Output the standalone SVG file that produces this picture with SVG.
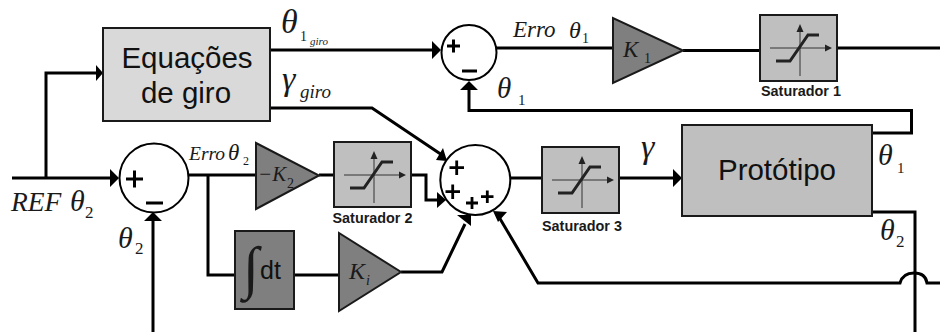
<svg xmlns="http://www.w3.org/2000/svg" width="940" height="332" viewBox="0 0 940 332">
<style>
.w{fill:none;stroke:#000;stroke-width:3;stroke-linejoin:miter}
.b{stroke:#1a1a1a;stroke-width:2}
.s{fill:#fff;stroke:#000;stroke-width:2}
.a{fill:#000;stroke:none}
.m{font-family:"Liberation Serif",serif;font-style:italic;fill:#1a1a1a}
.u{font-family:"Liberation Serif",serif;fill:#1a1a1a}
.l{font-family:"Liberation Sans",sans-serif;font-weight:bold;font-size:14.400px;fill:#1a1a1a}
.t{font-family:"Liberation Sans",sans-serif;fill:#111}
.x{stroke:#333;stroke-width:1;fill:none}
.c{stroke:#222;stroke-width:3;fill:none}
</style>
<defs>
<g id="sat">
<path class="x" d="M10 33H68M40 61V12"/>
<path d="M72 33l-7-3.500v7zM40 9l-3.500 8h7z" fill="#222"/>
<path class="c" d="M16 46H30L48 20H59"/>
</g>
</defs>
<g id="connectors">
<path class="w" d="M12 178H113"/>
<path class="w" d="M46 178V73H97"/>
<path class="w" d="M270 50H435"/>
<path class="w" d="M270 108H372L442 155"/>
<path class="w" d="M496 48H613M683 50.500H760M837 48H940"/>
<path class="w" d="M872 133H911.500V110.500H469V88"/>
<path class="w" d="M188 175H256M319 175H334"/>
<path class="w" d="M411 175H426V200H440"/>
<path class="w" d="M208 175V275H235M294 275H339"/>
<path class="w" d="M401 272H442L465 224"/>
<path class="w" d="M153 332V218"/>
<path class="w" d="M509 178H542M619 178H676"/>
<path class="w" d="M872 212H915V332"/>
<path class="w" d="M940 283H927C926 276 921 273 914 273C907 273 902 276 900 283H538L499 217"/>
<path class="a" d="M103 73L96 65V81zM441 50L432 41V59zM469 81L460 90H478zM119 178L110 169V187zM153 212L144 221H162zM682 178L673 169V187z"/>
<path class="a" d="M447 161L436 160L443 148zM446 200L437 192V208zM471 215L457 215L471 226zM493 211L507 212L498 222z"/>
</g>
<g id="equacoes"><rect class="b" x="103" y="28" width="167" height="93" fill="#d9d9d9"/>
<text class="t" x="187" y="68" font-size="29.500" text-anchor="middle">Equações</text>
<text class="t" x="186" y="103" font-size="29.500" text-anchor="middle">de giro</text></g>
<g id="sum1"><circle class="s" cx="469" cy="52.500" r="27.500"/>
<path d="M447 46H460M453.500 39.500V52.500M462 71H477" stroke="#000" stroke-width="3"/></g>
<g id="sum2"><circle class="s" cx="154" cy="178" r="34.500"/>
<path d="M126 179H143M134.500 170.500V187.500M146 203H163" stroke="#000" stroke-width="3"/></g>
<g id="sum3"><circle class="s" cx="475.300" cy="180" r="35"/>
<path d="M449.500 167.700H464M456.700 160.500V175M445.500 191.700H460M452.700 184.500V199M466 203H478M472 197V209M481 196.700H493.500M487.300 190.500V203" stroke="#000" stroke-width="2.800"/></g>
<g id="k1"><path class="b" d="M613 18V83L683 50.500z" fill="#7f7f7f"/>
<text class="m" x="623" y="57" font-size="23">K</text><text class="u" x="644" y="63" font-size="14">1</text></g>
<g id="k2"><path class="b" d="M256 143V209L319 175.500z" fill="#7f7f7f"/>
<text class="m" x="258" y="181" font-size="21">−K</text><text class="u" x="287" y="188" font-size="14">2</text></g>
<g id="ki"><path class="b" d="M339 233V311L401 272z" fill="#7f7f7f"/>
<text class="m" x="349" y="279" font-size="24">K</text><text class="m" x="366" y="285" font-size="14">i</text></g>
<g id="integrador"><rect class="b" x="235" y="231" width="59" height="78" fill="#7f7f7f"/>
<text class="u" x="243" y="287" font-size="58" fill="#111">∫</text>
<text class="t" x="260" y="279" font-size="25">dt</text></g>
<g id="saturador1"><rect class="b" x="760" y="15" width="77" height="66" fill="#bfbfbf"/><use href="#sat" x="760" y="15"/>
<text class="l" x="801" y="96" text-anchor="middle">Saturador 1</text></g>
<g id="saturador2"><rect class="b" x="334" y="142" width="77" height="65" fill="#bfbfbf"/><use href="#sat" x="334" y="142"/>
<text class="l" x="372.500" y="223" text-anchor="middle">Saturador 2</text></g>
<g id="saturador3"><rect class="b" x="542" y="147" width="77" height="66" fill="#bfbfbf"/><use href="#sat" x="542" y="147"/>
<text class="l" x="582" y="231" text-anchor="middle">Saturador 3</text></g>
<g id="prototipo"><rect class="b" x="682" y="125" width="190" height="91" fill="#bfbfbf"/>
<text class="t" x="777" y="180" font-size="29.500" text-anchor="middle">Protótipo</text></g>
<g id="labels">
<text class="m" x="281" y="33" font-size="34">θ</text><text class="u" x="300" y="41" font-size="14">1</text><text class="m" x="310" y="45" font-size="11">giro</text>
<text class="m" x="282" y="90" font-size="34">γ</text><text class="m" x="300" y="98" font-size="19">giro</text>
<text class="m" x="513" y="37" font-size="23">Erro</text><text class="m" x="569" y="38" font-size="24">θ</text><text class="u" x="582" y="43" font-size="14">1</text>
<text class="m" x="497" y="98" font-size="29">θ</text><text class="u" x="518" y="105" font-size="15">1</text>
<text class="m" x="189" y="160" font-size="19.500">Erro</text><text class="m" x="228" y="160" font-size="23">θ</text><text class="u" x="243" y="165" font-size="12">2</text>
<text class="m" x="641" y="158" font-size="34">γ</text>
<text class="m" x="878" y="165" font-size="30">θ</text><text class="u" x="897" y="173" font-size="15">1</text>
<text class="m" x="880" y="240" font-size="30">θ</text><text class="u" x="896" y="247" font-size="17">2</text>
<text class="m" x="11" y="211" font-size="27.500">REF</text><text class="m" x="70" y="211" font-size="30">θ</text><text class="u" x="85" y="218" font-size="17">2</text>
<text class="m" x="118" y="248" font-size="30">θ</text><text class="u" x="135" y="254" font-size="17">2</text>
</g>
</svg>
